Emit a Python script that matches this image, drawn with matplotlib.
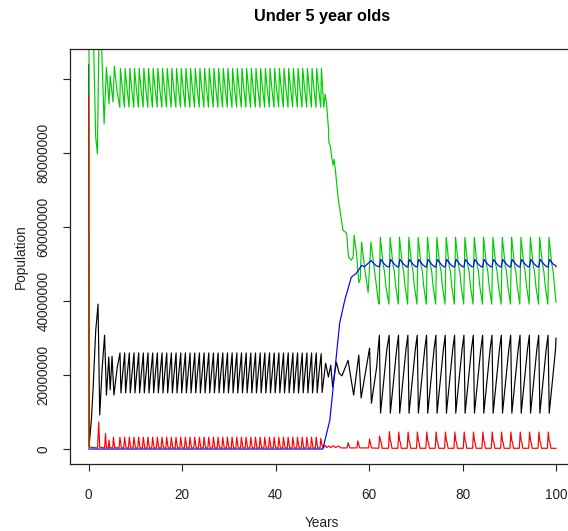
import matplotlib
matplotlib.use("Agg")
import matplotlib.pyplot as plt

plt.rcParams["font.family"] = ["Liberation Sans", "DejaVu Sans"]

# ── data (values in millions) ───────────────────────────────────────────────
# event times = moment of each epidemic spike (black drops, green jumps)
PRE_EVENTS = [6.7, 7.7, 8.7, 9.7, 10.7, 11.7, 12.7, 13.7, 14.7, 15.7, 16.7,
              17.7, 18.7, 19.7, 20.7, 21.7, 22.7, 23.7, 24.7, 25.7, 26.7,
              27.7, 28.7, 29.7, 30.7, 31.7, 32.7, 33.7, 34.7, 35.7, 36.7,
              37.7, 38.7, 39.7, 40.7, 41.7, 42.7, 43.7, 44.7, 45.7, 46.7,
              47.7, 48.7]
POST_EVENTS = [62.3, 64.4, 66.4, 68.4, 70.4, 72.4, 74.4, 76.4, 78.4, 80.4,
               82.4, 84.4, 86.4, 88.4, 90.4, 92.4, 94.4, 96.4, 98.4]

# one cycle of each series: (offset from event, value)
GREEN_PRE_CYCLE = [(-0.05, 92.5), (0.1, 103.0), (0.5, 97.5)]
BLACK_PRE_CYCLE = [(0.0, 26.0), (0.2, 15.2), (0.6, 20.8)]
RED_PRE_CYCLE = [(-0.2, 0.3), (-0.02, 3.2), (0.15, 1.6), (0.3, 0.3)]

GREEN_POST_CYCLE = [(-0.15, 39.2), (0.1, 57.3), (0.7, 50.0), (1.0, 48.0), (1.3, 44.0)]
BLACK_POST_CYCLE = [(-0.1, 30.8), (0.15, 9.7), (1.0, 20.5), (1.5, 27.0)]
RED_POST_CYCLE = [(-0.25, 0.2), (-0.05, None), (0.15, 2.2), (0.3, 1.8), (0.5, 0.2)]
RED_POST_PEAKS = [3.5, 4.7, 4.6, 4.6, 4.6, 4.6, 4.6, 4.6, 4.6, 4.6,
                  4.6, 4.6, 4.6, 4.6, 4.6, 4.6, 4.6, 4.6, 4.6]
BLUE_POST_CYCLE = [(-0.1, 49.3), (0.2, 51.3), (1.0, 50.0), (1.6, 49.3)]

# start-up transients
GREEN_START = [(0, 0.5), (0.07, 118), (0.9, 118), (1.5, 84.4), (1.86, 79.9),
               (2.2, 112), (2.7, 112), (3.3, 88.0), (3.8, 103.3), (4.35, 93.4),
               (4.6, 101.0), (5.2, 93.9), (5.5, 103.6), (6.1, 96.5)]
BLACK_START = [(0, 104.0), (0.1, 1.0), (0.57, 7.8), (0.93, 16.0), (1.5, 32.0),
               (2.0, 39.2), (2.36, 9.2), (2.9, 22.2), (3.4, 30.8), (3.8, 14.6),
               (4.3, 24.9), (4.6, 16.0), (5.0, 25.1), (5.4, 14.6), (6.1, 22.0)]
RED_START = [(0, 95.7), (0.05, 33.5), (0.12, 0.5), (1.9, 0.3), (2.15, 7.3),
             (2.35, 0.5), (3.4, 0.3), (3.6, 4.2), (3.8, 0.4), (4.2, 0.3),
             (4.35, 2.4), (4.5, 0.4), (5.15, 0.3), (5.3, 3.2), (5.55, 0.4)]

# vaccination period transition (t ~ 49.5 .. 62)
GREEN_MID = [(49.65, 92.5), (49.8, 103.0), (50.3, 92.5), (50.6, 96.0),
             (50.9, 93.5), (51.1, 90.3), (51.3, 86.8), (51.4, 83.0), (51.7, 82.0),
             (52.0, 79.0), (52.3, 76.8), (52.5, 78.4), (52.8, 75.4), (53.1, 71.4),
             (53.4, 67.8), (54.1, 61.9), (54.4, 59.2), (55.2, 58.4), (55.6, 51.9),
             (56.2, 51.1), (56.6, 52.0), (56.8, 57.8), (57.3, 53.2), (57.8, 45.0),
             (58.1, 46.0), (58.4, 56.0), (59.1, 48.4), (59.8, 42.4), (60.4, 56.0),
             (61.2, 48.0), (61.95, 40.3)]
BLACK_MID = [(49.75, 25.8), (49.95, 15.3), (50.7, 23.2), (51.3, 19.5),
             (51.8, 22.7), (52.2, 16.8), (53.0, 23.5), (53.6, 20.5), (54.2, 19.8),
             (55.5, 24.0), (56.7, 14.6), (57.8, 25.4), (58.3, 13.8), (60.1, 27.3),
             (60.5, 12.4), (61.6, 22.0)]
RED_MID = [(49.5, 0.3), (49.68, 2.9), (49.85, 1.4), (50.2, 0.3), (50.6, 1.0),
           (50.9, 0.4), (51.4, 0.8), (51.8, 0.4), (52.4, 0.9), (52.8, 0.4),
           (53.5, 0.8), (54.0, 0.3), (55.3, 0.3), (55.5, 1.7), (55.9, 0.3),
           (57.4, 0.3), (57.6, 2.2), (58.0, 0.3), (59.9, 0.3), (60.1, 2.7),
           (60.5, 0.3)]
BLUE_MID = [(0, 0.0), (50.1, 0.0), (51.6, 7.8), (53.7, 34.0), (54.8, 40.3),
            (56.2, 46.5), (57.3, 47.6), (58.4, 49.7), (59.0, 49.3), (60.4, 51.0),
            (61.5, 49.6)]

GREEN_END = [(100, 39.7)]
BLACK_END = [(100, 30.0)]
RED_END = [(100, 0.2)]
BLUE_END = [(100, 49.6)]


def build(*parts, events_shapes=()):
    pts = []
    for p in parts:
        pts.extend(p)
    for events, shape, peaks in events_shapes:
        for k, T in enumerate(events):
            for off, val in shape:
                pts.append((T + off, peaks[k] if val is None else val))
    pts.sort(key=lambda p: p[0])
    return [p[0] for p in pts], [p[1] * 1e6 for p in pts]


black_t, black_v = build(BLACK_START, BLACK_MID, BLACK_END, events_shapes=[
    (PRE_EVENTS, BLACK_PRE_CYCLE, None), (POST_EVENTS, BLACK_POST_CYCLE, None)])
green_t, green_v = build(GREEN_START, GREEN_MID, GREEN_END, events_shapes=[
    (PRE_EVENTS, GREEN_PRE_CYCLE, None), (POST_EVENTS, GREEN_POST_CYCLE, None)])
red_t, red_v = build(RED_START, RED_MID, RED_END, events_shapes=[
    (PRE_EVENTS, RED_PRE_CYCLE, None), (POST_EVENTS, RED_POST_CYCLE, RED_POST_PEAKS)])
blue_t, blue_v = build(BLUE_MID, BLUE_END, events_shapes=[
    (POST_EVENTS, BLUE_POST_CYCLE, None)])

X_TICKS = [0, 20, 40, 60, 80, 100]
Y_TICKS = [0, 20000000, 40000000, 60000000, 80000000, 100000000]
Y_LABELS = ["0", "20000000", "40000000", "60000000", "80000000", ""]

# ── figure ───────────────────────────────────────────────────────────────────
W, H = 568, 531
fig = plt.figure(figsize=(W / 100, H / 100), dpi=100)
left, right, top, bottom = 70, 574.7, 49.3, 464.4
ax = fig.add_axes([left / W, 1 - bottom / H, (right - left) / W, (bottom - top) / H])

lw = 0.85
ax.plot(black_t, black_v, color="black", lw=lw)
ax.plot(green_t, green_v, color="#00CD00", lw=lw)
ax.plot(red_t, red_v, color="#FF0000", lw=lw)
ax.plot(blue_t, blue_v, color="#0000FF", lw=lw)

ax.set_xlim(-4, 104)
ax.set_ylim(-4.16e6, 108.16e6)
ax.set_xticks(X_TICKS)
ax.set_xticklabels([str(x) for x in X_TICKS])
ax.set_yticks(Y_TICKS)
ax.set_yticklabels(Y_LABELS, rotation=90, va="center")
ax.tick_params(axis="both", length=5, width=0.8, labelsize=9.8, colors="#222222")
ax.tick_params(axis="x", pad=12)
ax.tick_params(axis="y", pad=9)
for s in ax.spines.values():
    s.set_linewidth(0.9)
    s.set_color("#222222")

ax.set_xlabel("Years", fontsize=9.8, color="#222222")
ax.xaxis.set_label_coords(0.5, -0.125)
ax.set_ylabel("Population", fontsize=9.8, color="#222222")
ax.yaxis.set_label_coords(-0.083, 0.5)

fig.text(322 / W, 1 - 17 / H, "Under 5 year olds", ha="center", va="center",
         fontsize=11.7, fontweight="bold")

fig.savefig("out.png", dpi=100)
